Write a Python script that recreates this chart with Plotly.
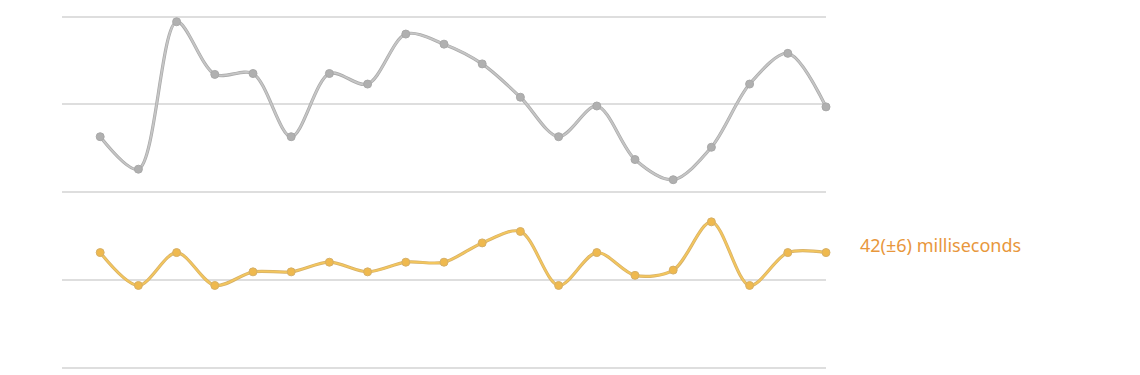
import plotly.graph_objects as go

x_index = list(range(20))
gray_values = [56.3, 52.6, 69.4, 63.4, 63.5, 56.3, 63.5, 62.3, 68.0, 66.85,
               64.6, 60.8, 56.3, 59.8, 53.7, 51.4, 55.1, 62.3, 65.8, 59.7]
latency_ms = [43.1, 39.35, 43.1, 39.35, 40.9, 40.9, 42.0, 40.9, 42.0, 42.0,
              44.2, 45.5, 39.35, 43.1, 40.5, 41.1, 46.6, 39.35, 43.1, 43.1]
label_text = "42(±6) milliseconds"
y_ticks = [30, 40, 50, 60, 70]

pad = 1.5 / 8.8

fig = go.Figure()

series = [
    (gray_values, "#a9a9a9", "#c6c6c6", "#b0b0b0"),
    (latency_ms, "#d6b068", "#f3c65e", "#efb94e"),
]
for vals, edge, core, mk in series:
    fig.add_trace(go.Scatter(
        x=x_index, y=vals, mode="lines",
        line=dict(color=edge, width=3.2, shape="spline", smoothing=0.9),
        hoverinfo="skip", showlegend=False, cliponaxis=False,
    ))
    fig.add_trace(go.Scatter(
        x=x_index, y=vals, mode="lines+markers",
        line=dict(color=core, width=1.8, shape="spline", smoothing=0.9),
        marker=dict(size=8, color=mk, line=dict(color=edge, width=1)),
        hoverinfo="skip", showlegend=False, cliponaxis=False,
    ))

fig.add_annotation(
    x=(858 - 62) / 764, xref="paper", xanchor="left",
    y=44.0, yref="y", yanchor="middle",
    text=label_text, showarrow=False,
    font=dict(family="Noto Sans", size=18, color="#e8973c"),
)

fig.update_xaxes(range=[-1, 19], showgrid=False, zeroline=False,
                 showticklabels=False, showline=False, ticks="")
fig.update_yaxes(range=[30 - pad, 70 + pad], tickvals=y_ticks, showgrid=True,
                 gridcolor="#dedede", gridwidth=2, zeroline=False,
                 showticklabels=False, showline=False, ticks="")

fig.update_layout(
    width=1140, height=375,
    margin=dict(l=62, r=314, t=14.5, b=5.5),
    paper_bgcolor="white", plot_bgcolor="white",
)

fig.write_html("out.html")
